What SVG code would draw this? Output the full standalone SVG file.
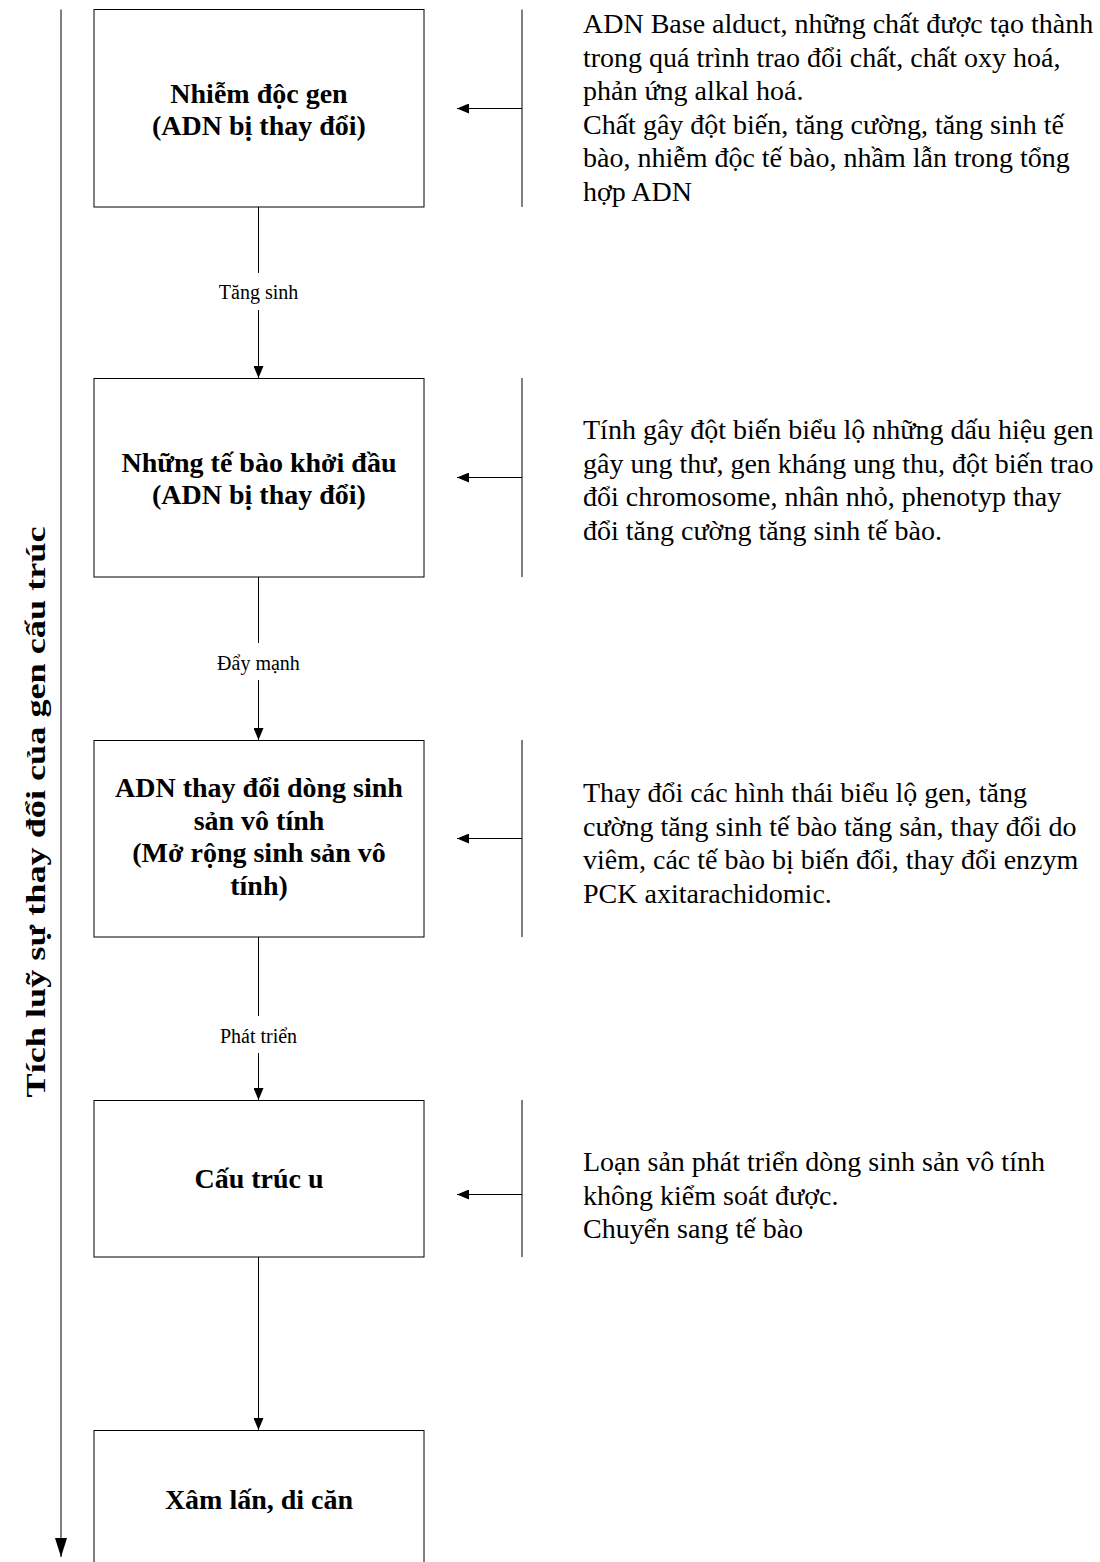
<svg xmlns="http://www.w3.org/2000/svg" width="1100" height="1562" viewBox="0 0 1100 1562">
  <style>
    .box { fill: #fff; stroke: #000; stroke-width: 1; }
    .ln { fill: none; stroke: #000; stroke-width: 1; }
    .title { font-family: "Liberation Serif", "Times New Roman", serif; font-weight: bold; font-size: 28px; fill: #000; text-anchor: middle; }
    .desc { font-family: "Liberation Serif", "Times New Roman", serif; font-size: 28px; fill: #000; }
    .lbl { font-family: "Liberation Serif", "Times New Roman", serif; font-size: 20px; fill: #000; text-anchor: middle; }
  </style>
  <defs>
    <marker id="arr" viewBox="0 0 12 10" refX="12" refY="5" markerWidth="12" markerHeight="10" markerUnits="userSpaceOnUse" orient="auto">
      <path d="M0,0 L12,5 L0,10 Z" fill="#000"/>
    </marker>
    <marker id="arrLong" viewBox="0 0 19 12" refX="19" refY="6" markerWidth="19" markerHeight="12" markerUnits="userSpaceOnUse" orient="auto">
      <path d="M0,0 L19,6 L0,12 Z" fill="#000"/>
    </marker>
  </defs>

  <rect width="1100" height="1562" fill="#fff"/>

  <!-- accumulation axis on the left -->
  <g id="axis">
    <line class="ln" x1="61" y1="9.5" x2="61" y2="1557" marker-end="url(#arrLong)"/>
    <text class="title" transform="translate(45,812) rotate(-90)" textLength="571" lengthAdjust="spacingAndGlyphs">Tích luỹ sự thay đổi của gen cấu trúc</text>
  </g>

  <!-- stage boxes -->
  <g id="n1">
    <rect class="box" x="94" y="9.5" width="330" height="197.5"/>
    <text class="title" x="259" y="103">Nhiễm độc gen</text>
    <text class="title" x="259" y="135">(ADN bị thay đổi)</text>
  </g>
  <g id="n2">
    <rect class="box" x="94" y="378.5" width="330" height="198.5"/>
    <text class="title" x="259" y="472">Những tế bào khởi đầu</text>
    <text class="title" x="259" y="504">(ADN bị thay đổi)</text>
  </g>
  <g id="n3">
    <rect class="box" x="94" y="740.5" width="330" height="196.5"/>
    <text class="title" x="259" y="797">ADN thay đổi dòng sinh</text>
    <text class="title" x="259" y="830">sản vô tính</text>
    <text class="title" x="259" y="862">(Mở rộng sinh sản vô</text>
    <text class="title" x="259" y="895">tính)</text>
  </g>
  <g id="n4">
    <rect class="box" x="94" y="1100.5" width="330" height="156.5"/>
    <text class="title" x="259" y="1188">Cấu trúc u</text>
  </g>
  <g id="n5">
    <rect class="box" x="94" y="1430.5" width="330" height="150"/>
    <text class="title" x="259" y="1509">Xâm lấn, di căn</text>
  </g>

  <!-- factor descriptions -->
  <g id="d1">
    <line class="ln" x1="522" y1="9.5" x2="522" y2="207"/>
    <text class="desc" x="583" y="33">ADN Base alduct, những chất được tạo thành</text>
    <text class="desc" x="583" y="66.5">trong quá trình trao đổi chất, chất oxy hoá,</text>
    <text class="desc" x="583" y="100">phản ứng alkal hoá.</text>
    <text class="desc" x="583" y="133.5">Chất gây đột biến, tăng cường, tăng sinh tế</text>
    <text class="desc" x="583" y="167">bào, nhiễm độc tế bào, nhầm lẫn trong tổng</text>
    <text class="desc" x="583" y="200.5">hợp ADN</text>
  </g>
  <g id="d2">
    <line class="ln" x1="522" y1="378" x2="522" y2="577"/>
    <text class="desc" x="583" y="439">Tính gây đột biến biểu lộ những dấu hiệu gen</text>
    <text class="desc" x="583" y="472.5">gây ung thư, gen kháng ung thu, đột biến trao</text>
    <text class="desc" x="583" y="506">đổi chromosome, nhân nhỏ, phenotyp thay</text>
    <text class="desc" x="583" y="539.5">đổi tăng cường tăng sinh tế bào.</text>
  </g>
  <g id="d3">
    <line class="ln" x1="522" y1="740" x2="522" y2="937"/>
    <text class="desc" x="583" y="802">Thay đổi các hình thái biểu lộ gen, tăng</text>
    <text class="desc" x="583" y="835.5">cường tăng sinh tế bào tăng sản, thay đổi do</text>
    <text class="desc" x="583" y="869">viêm, các tế bào bị biến đổi, thay đổi enzym</text>
    <text class="desc" x="583" y="902.5">PCK axitarachidomic.</text>
  </g>
  <g id="d4">
    <line class="ln" x1="522" y1="1100" x2="522" y2="1257"/>
    <text class="desc" x="583" y="1171">Loạn sản phát triển dòng sinh sản vô tính</text>
    <text class="desc" x="583" y="1204.5">không kiểm soát được.</text>
    <text class="desc" x="583" y="1238">Chuyển sang tế bào</text>
  </g>

  <!-- connectors -->
  <g id="connectors">
    <line class="ln" x1="522" y1="108.5" x2="457" y2="108.5" marker-end="url(#arr)"/>
    <line class="ln" x1="522" y1="477.5" x2="457" y2="477.5" marker-end="url(#arr)"/>
    <line class="ln" x1="522" y1="838.5" x2="457" y2="838.5" marker-end="url(#arr)"/>
    <line class="ln" x1="522" y1="1194.5" x2="457" y2="1194.5" marker-end="url(#arr)"/>

    <line class="ln" x1="258.5" y1="207" x2="258.5" y2="273"/>
    <line class="ln" x1="258.5" y1="310" x2="258.5" y2="378" marker-end="url(#arr)"/>
    <text class="lbl" x="258.5" y="299">Tăng sinh</text>

    <line class="ln" x1="258.5" y1="577" x2="258.5" y2="643"/>
    <line class="ln" x1="258.5" y1="680" x2="258.5" y2="740" marker-end="url(#arr)"/>
    <text class="lbl" x="258.5" y="670">Đẩy mạnh</text>

    <line class="ln" x1="258.5" y1="937" x2="258.5" y2="1016"/>
    <line class="ln" x1="258.5" y1="1053" x2="258.5" y2="1100" marker-end="url(#arr)"/>
    <text class="lbl" x="258.5" y="1043">Phát triển</text>

    <line class="ln" x1="258.5" y1="1257" x2="258.5" y2="1430" marker-end="url(#arr)"/>
  </g>
</svg>
